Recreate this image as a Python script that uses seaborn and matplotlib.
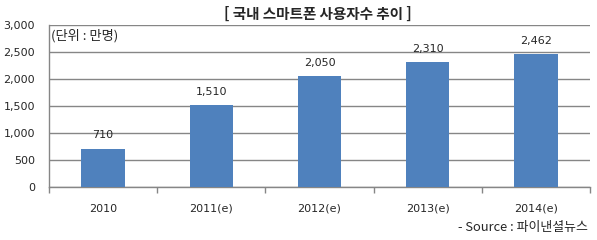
import matplotlib
matplotlib.use("Agg")
import matplotlib.pyplot as plt
import seaborn as sns
import pandas as pd
from matplotlib.ticker import FixedLocator

categories = ["2010", "2011(e)", "2012(e)", "2013(e)", "2014(e)"]
values = [710, 1510, 2050, 2310, 2462]
value_labels = ["710", "1,510", "2,050", "2,310", "2,462"]
yticks = [0, 500, 1000, 1500, 2000, 2500, 3000]
ytick_labels = ["0", "500", "1,000", "1,500", "2,000", "2,500", "3,000"]
title = "[ 국내 스마트폰 사용자수 추이 ]"
unit_text = "(단위 : 만명)"
source_text = "- Source : 파이낸셜뉴스"

sns.set_theme(style="white")
plt.rcParams['font.family'] = ['Noto Sans CJK KR', 'DejaVu Sans']

df = pd.DataFrame({"year": categories, "users": values})

fig = plt.figure(figsize=(5.97, 2.40), dpi=100)
ax = fig.add_axes([49/597, 1 - 187/240, (590-49)/597, (187-25)/240])

sns.barplot(data=df, x="year", y="users", color="#4F81BD", saturation=1,
            width=0.40, linewidth=0, edgecolor="none", ax=ax, zorder=3)

ax.set_ylim(0, 3000)
ax.set_xlim(-0.5, len(categories) - 0.5)
ax.set_yticks(yticks)
ax.set_yticklabels(ytick_labels, fontsize=8, family='DejaVu Sans')
ax.set_xticks(range(len(categories)))
ax.set_xticklabels(categories, fontsize=8, family='DejaVu Sans')
ax.set_xlabel("")
ax.set_ylabel("")
ax.yaxis.grid(True, color="#868686", linewidth=1.0, zorder=0)
ax.set_axisbelow(True)

for s in ["top", "right"]:
    ax.spines[s].set_visible(False)
for s in ["left", "bottom"]:
    ax.spines[s].set_color("#868686")
    ax.spines[s].set_linewidth(1.0)

ax.tick_params(axis="y", length=0, pad=10)
ax.tick_params(axis="x", length=0, pad=12)

ax.xaxis.set_minor_locator(FixedLocator([i + 0.5 for i in range(-1, len(categories))]))
ax.tick_params(axis="x", which="minor", length=4, color="#868686", width=1, direction="out", bottom=True)

for i, (v, lab) in enumerate(zip(values, value_labels)):
    ax.annotate(lab, (i, v), xytext=(0, 6), textcoords="offset points",
                ha="center", va="bottom", fontsize=8, family='DejaVu Sans')

fig.text(318/597, 1 - 14/240, title, ha="center", va="center", fontsize=10.5, fontweight="bold")
fig.text(51/597, 1 - 36/240, unit_text, ha="left", va="center", fontsize=9.5)
fig.text(588/597, 1 - 227/240, source_text, ha="right", va="center", fontsize=9.3)

fig.savefig("out.png", dpi=100)
